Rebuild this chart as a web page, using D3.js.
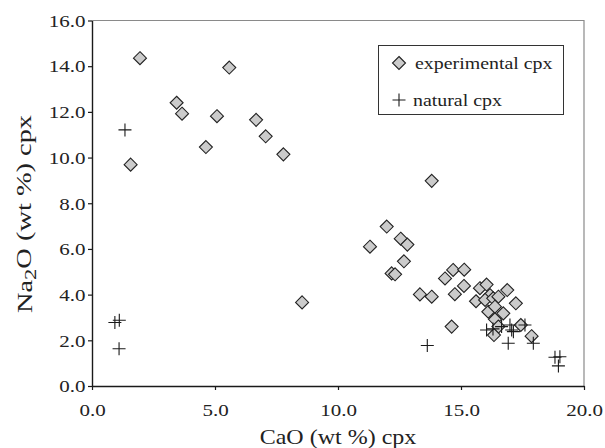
<!DOCTYPE html>
<html><head><meta charset="utf-8">
<script src="https://cdn.jsdelivr.net/npm/d3@7"></script>
<style>body{margin:0;background:#fff}</style>
</head><body><svg id="c" width="605" height="448"></svg>
<script>
const expX=[1.95,3.44,3.66,5.58,5.08,4.63,6.67,7.06,7.78,1.57,8.54,13.81,11.98,11.3,12.55,12.82,12.68,12.18,12.32,13.33,13.81,14.35,14.68,15.13,15.12,14.75,14.62,15.77,16.04,15.61,16.88,16.18,15.98,16.31,16.52,17.23,16.11,16.38,16.72,16.38,16.52,16.34,17.43,17.87];
const expY=[14.35,12.40,11.92,13.94,11.81,10.46,11.65,10.93,10.14,9.69,3.66,8.98,6.98,6.1,6.45,6.19,5.46,4.93,4.89,4.01,3.91,4.71,5.08,5.09,4.38,4.02,2.60,4.28,4.44,3.71,4.20,3.98,3.77,3.84,3.91,3.62,3.25,3.47,3.18,2.92,2.60,2.23,2.67,2.18];
const natX=[1.34,0.93,1.11,1.10,13.63,16.04,16.30,16.65,16.99,17.06,17.13,17.60,16.92,17.94,18.82,19.02,18.96];
const natY=[11.21,2.78,2.88,1.63,1.77,2.45,2.50,2.60,2.67,2.45,2.38,2.67,1.87,1.87,1.26,1.28,0.88];
const xTicks=[0,5,10,15,20];
const yTicks=[0,2,4,6,8,10,12,14,16];
const legendLabels=["experimental cpx","natural cpx"];
const xTitle="CaO (wt %) cpx";

const FONT="Liberation Serif";
const svg=d3.select("#c");
const L=92,R=584,T=20.5,B=386;
const x=d3.scaleLinear().domain([0,20]).range([L,R]);
const y=d3.scaleLinear().domain([0,16]).range([B,T]);
const SX=1.2;

svg.append("path").attr("d",`M${L},${T}H${R}V${B}`).attr("fill","none").attr("stroke","#8a8a8a").attr("stroke-width",1.2);

const ya=svg.append("g").attr("transform",`translate(${L},0)`).call(d3.axisLeft(y).tickValues(yTicks).tickFormat(d3.format(".1f")).tickSize(4).tickSizeOuter(0));
const xa=svg.append("g").attr("transform",`translate(0,${B})`).call(d3.axisBottom(x).tickValues(xTicks).tickFormat(d3.format(".1f")).tickSize(4).tickSizeOuter(0));
[ya,xa].forEach(a=>{a.attr("font-family",FONT);a.select(".domain").attr("stroke","#1a1a1a").attr("stroke-width",1.4);a.selectAll(".tick line").attr("stroke","#1a1a1a").attr("stroke-width",1.2);
 a.selectAll("text").attr("font-family",FONT).attr("font-size",17.5).attr("fill","#222");});
ya.selectAll(".tick text").attr("x",0).attr("dy","0.33em").attr("transform",`translate(-6.5,0) scale(${SX},1)`);
xa.selectAll(".tick text").attr("y",0).attr("dy",0).attr("transform",`translate(0,29.5) scale(${SX},1)`);

svg.append("text").attr("transform",`translate(${(L+R)/2},444) scale(${SX},1)`).attr("text-anchor","middle").attr("font-family",FONT).attr("font-size",20).attr("fill","#222").text(xTitle);
const yt=svg.append("text").attr("transform",`translate(32,214) rotate(-90) scale(1.42,1)`).attr("text-anchor","middle").attr("font-family",FONT).attr("font-size",20).attr("fill","#222");
yt.append("tspan").text("Na");
yt.append("tspan").attr("dy","0.25em").attr("font-size",16).text("2");
yt.append("tspan").attr("dy","-0.25em").text("O (wt %) cpx");

const diamond=(g,cx,cy)=>g.append("path").attr("d",`M${cx},${cy-6.5}L${cx+6.5},${cy}L${cx},${cy+6.5}L${cx-6.5},${cy}Z`).attr("fill","#cbcbcb").attr("stroke","#222").attr("stroke-width",1.1);
const plus=(g,cx,cy)=>g.append("path").attr("d",`M${cx-6.5},${cy}H${cx+6.5}M${cx},${cy-6.5}V${cy+6.5}`).attr("stroke","#1a1a1a").attr("stroke-width",1.1).attr("fill","none");

const gp=svg.append("g");
expX.forEach((v,i)=>diamond(gp,x(v),y(expY[i])));
natX.forEach((v,i)=>plus(gp,x(v),y(natY[i])));

const lg=svg.append("g");
lg.append("rect").attr("x",378.5).attr("y",45.5).attr("width",185).attr("height",69).attr("fill","#fff").attr("stroke","#333").attr("stroke-width",1);
diamond(lg,399,63);
plus(lg,399,100);
lg.append("text").attr("transform",`translate(415,69) scale(1.17,1)`).attr("font-family",FONT).attr("font-size",17).attr("fill","#222").text(legendLabels[0]);
lg.append("text").attr("transform",`translate(413,106) scale(1.17,1)`).attr("font-family",FONT).attr("font-size",17).attr("fill","#222").text(legendLabels[1]);
</script></body></html>
